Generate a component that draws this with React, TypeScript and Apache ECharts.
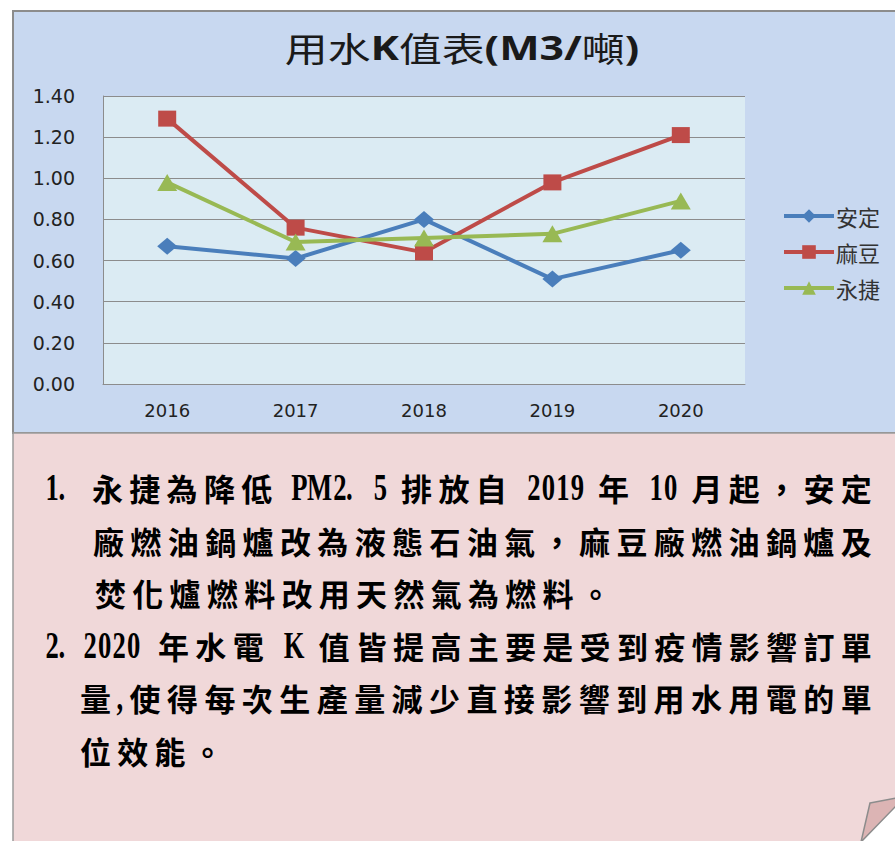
import React, { useEffect, useRef } from "react";
import * as echarts from "echarts";

// ---------- data ----------
const years = ["2016", "2017", "2018", "2019", "2020"];
const seriesNames = ["安定", "麻豆", "永捷"];
const anDing = [0.67, 0.61, 0.8, 0.51, 0.65];
const maDou = [1.29, 0.76, 0.64, 0.98, 1.21];
const yongJie = [0.98, 0.69, 0.71, 0.73, 0.89];
const yMin = 0;
const yMax = 1.4;
const yStep = 0.2;

const titleParts = [
  { t: "用水", b: false },
  { t: "K", b: true },
  { t: "值表", b: false },
  { t: "(M3/", b: true },
  { t: "噸", b: false },
  { t: ")", b: true },
];

const noteMarkers = ["1.", "", "", "2.", "", ""];
const noteLines = [
  "永捷為降低 PM2.5 排放自 2019 年 10 月起，安定",
  "廠燃油鍋爐改為液態石油氣，麻豆廠燃油鍋爐及",
  "焚化爐燃料改用天然氣為燃料。",
  "2020 年水電 K 值皆提高主要是受到疫情影響訂單",
  "量,使得每次生產量減少直接影響到用水用電的單",
  "位效能。",
];

// ---------- layout (not data) ----------
const W = 895;
const H = 841;
const lineStartX = [92, 93, 95, 83, 80, 80];
const lineY = [487, 540, 592, 645, 697, 750];
const lineJustified = [true, true, false, true, true, false];
const lineEndX = 878;
const markerX = 45;
const CJK_FS = 31;
const CJK_PITCH = 37.3;
const CJK_FONT = '"Noto Sans CJK TC", "Noto Sans CJK SC", sans-serif';
const ASCII_FS = 37;
const ASCII_SX = 0.72;
const ASCII_FONT = '"Liberation Serif", serif';
const ASCII_DY = 0;
const FREE_SPACE = 14;

function asciiCell(ch: string): number {
  if (ch === ".") return 26;
  if (ch === ",") return 12;
  if (ch === "M") return 26;
  return 14.5;
}

type Tok = { k: "c" | "a" | "sp"; s: string; w: number };
function tokenize(s: string): Tok[] {
  const out: Tok[] = [];
  for (const ch of s) {
    if (ch === " ") out.push({ k: "sp", s: "", w: 0 });
    else if (ch.charCodeAt(0) > 0x2000) out.push({ k: "c", s: ch, w: CJK_PITCH });
    else out.push({ k: "a", s: ch, w: asciiCell(ch) });
  }
  return out;
}

function asciiText(ch: string, cellX: number, cellW: number, y: number): any {
  const leftAligned = ch === "." || ch === ",";
  return {
    type: "text",
    x: leftAligned ? cellX - 1 : cellX + cellW / 2,
    y: y + ASCII_DY,
    scaleX: ASCII_SX,
    z: 100,
    silent: true,
    style: {
      text: ch,
      fill: "#000",
      fontSize: ASCII_FS,
      fontWeight: "bold",
      fontFamily: ASCII_FONT,
      textAlign: leftAligned ? "left" : "center",
      align: leftAligned ? "left" : "center",
      textVerticalAlign: "middle",
      verticalAlign: "middle",
    },
  };
}

function buildNotes(): any[] {
  const els: any[] = [];
  noteLines.forEach((line, i) => {
    const y = lineY[i];
    const marker = noteMarkers[i];
    if (marker) {
      let mx = markerX;
      for (const ch of marker) {
        els.push(asciiText(ch, mx, asciiCell(ch), y));
        mx += asciiCell(ch);
      }
    }
    const toks = tokenize(line);
    const sum = toks.reduce((a, t) => a + t.w, 0);
    const nSp = toks.filter((t) => t.k === "sp").length;
    let spaceW = FREE_SPACE;
    let extra = 0;
    if (lineJustified[i]) {
      const rem = lineEndX - lineStartX[i] - sum;
      if (nSp > 0) spaceW = rem / nSp;
      else extra = rem / Math.max(1, toks.length - 1);
    }
    let x = lineStartX[i];
    toks.forEach((t) => {
      if (t.k === "c") {
        els.push({
          type: "text",
          x: x + CJK_FS / 2,
          y,
          z: 100,
          silent: true,
          style: {
            text: t.s,
            fill: "#000",
            fontSize: CJK_FS,
            fontWeight: "bold",
            fontFamily: CJK_FONT,
            textAlign: "center",
            align: "center",
            textVerticalAlign: "middle",
            verticalAlign: "middle",
          },
        });
        x += t.w + extra;
      } else if (t.k === "a") {
        els.push(asciiText(t.s, x, t.w, y));
        x += t.w + extra;
      } else {
        x += spaceW;
      }
    });
  });
  return els;
}

function buildTitle(): any {
  const text = titleParts.map((p) => `{${p.b ? "b" : "n"}|${p.t}}`).join("");
  return {
    type: "text",
    x: 462,
    y: 47,
    scaleX: 1.26,
    z: 100,
    silent: true,
    style: {
      text,
      textAlign: "center",
      align: "center",
      textVerticalAlign: "middle",
      verticalAlign: "middle",
      rich: {
        n: { fontSize: 34, fontFamily: CJK_FONT, fill: "#1a1a1a", color: "#1a1a1a" },
        b: {
          fontSize: 34,
          fontWeight: "bold",
          fontFamily: '"Noto Sans", "Open Sans", sans-serif',
          fill: "#1a1a1a",
          color: "#1a1a1a",
        },
      },
    },
  };
}

export default function App() {
  const ref = useRef<HTMLDivElement>(null);
  useEffect(() => {
    if (!ref.current) return;
    const chart = echarts.init(ref.current, undefined, { renderer: "svg" });
    const blue = "#4A7EBB";
    const red = "#BE4B48";
    const green = "#98B954";
    const option: any = {
      animation: false,
      backgroundColor: "#ffffff",
      graphic: [
        {
          type: "rect",
          z: -10,
          silent: true,
          shape: { x: 13, y: 11, width: 900, height: 422 },
          style: { fill: "#C8D8F0", stroke: "#8C8C8C", lineWidth: 2 },
        },
        {
          type: "rect",
          z: -10,
          silent: true,
          shape: { x: 13, y: 433, width: 900, height: 420 },
          style: { fill: "#F0D8D9", stroke: "#9A9A9A", lineWidth: 1.5 },
        },
        {
          type: "polygon",
          z: -5,
          silent: true,
          shape: {
            points: [
              [861, 841],
              [895, 806],
              [895, 845],
              [861, 845],
            ],
          },
          style: { fill: "#ffffff", stroke: "none" },
        },
        {
          type: "polygon",
          z: -4,
          silent: true,
          shape: {
            points: [
              [870, 803],
              [896, 798],
              [896, 806],
              [861, 842],
            ],
          },
          style: { fill: "#DCB4B4", stroke: "#8C8C8C", lineWidth: 1.5 },
        },
        buildTitle(),
        ...buildNotes(),
      ],
      grid: {
        left: 103,
        top: 96,
        right: W - 745,
        bottom: H - 384,
        show: true,
        backgroundColor: "#DBEBF3",
        borderWidth: 0,
        containLabel: false,
      },
      legend: {
        orient: "vertical",
        left: 782,
        top: 205,
        padding: 0,
        itemWidth: 50,
        itemHeight: 17,
        itemGap: 14,
        data: seriesNames,
        lineStyle: { width: 4 },
        textStyle: {
          fontSize: 22,
          fontFamily: CJK_FONT,
          color: "#333",
          padding: [0, 0, 0, -3],
        },
      },
      xAxis: {
        type: "category",
        data: years,
        boundaryGap: true,
        axisLine: { show: true, lineStyle: { color: "#8C8C8C", width: 1 } },
        axisTick: { show: false },
        axisLabel: {
          margin: 17,
          fontSize: 18,
          fontFamily: '"DejaVu Sans", sans-serif',
          color: "#222",
        },
        splitLine: { show: false },
      },
      yAxis: {
        type: "value",
        min: yMin,
        max: yMax,
        interval: yStep,
        axisLine: { show: true, lineStyle: { color: "#8C8C8C", width: 1 } },
        axisTick: { show: false },
        axisLabel: {
          margin: 28,
          fontSize: 19,
          fontFamily: '"DejaVu Sans", sans-serif',
          color: "#222",
          formatter: (v: number) => v.toFixed(2),
        },
        splitLine: { show: true, lineStyle: { color: "#8C8C8C", width: 1 } },
      },
      series: [
        {
          name: seriesNames[0],
          type: "line",
          data: anDing,
          symbol: "diamond",
          symbolSize: [20, 17],
          lineStyle: { color: blue, width: 4 },
          itemStyle: { color: blue },
          z: 3,
        },
        {
          name: seriesNames[1],
          type: "line",
          data: maDou,
          symbol: "rect",
          symbolSize: [18, 16],
          lineStyle: { color: red, width: 4 },
          itemStyle: { color: red },
          z: 4,
        },
        {
          name: seriesNames[2],
          type: "line",
          data: yongJie,
          symbol: "triangle",
          symbolSize: [20, 17],
          lineStyle: { color: green, width: 4 },
          itemStyle: { color: green },
          z: 5,
        },
      ],
    };
    chart.setOption(option);
    return () => chart.dispose();
  }, []);
  return (
    <div
      ref={ref}
      style={{ position: "fixed", left: 0, top: 0, width: W, height: H }}
    />
  );
}
